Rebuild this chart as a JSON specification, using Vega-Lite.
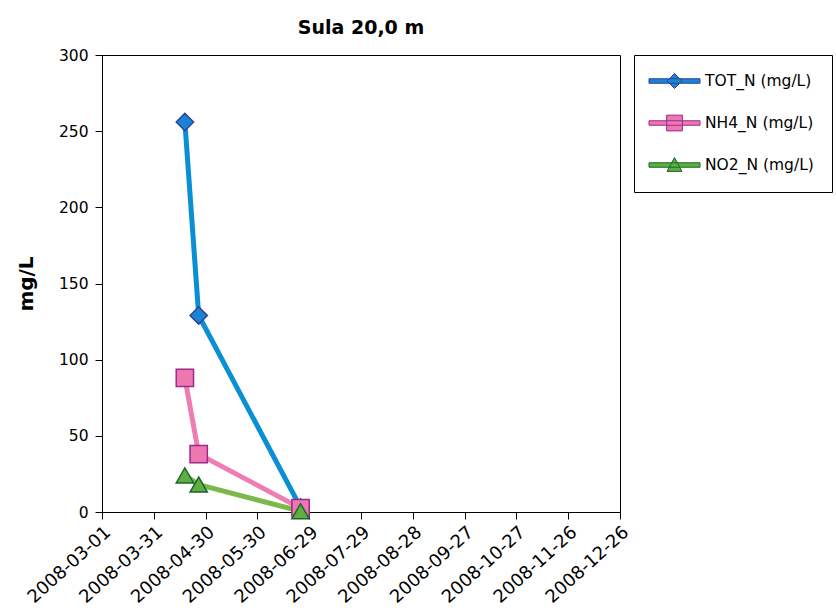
{
  "$schema": "https://vega.github.io/schema/vega-lite/v6.json",
  "width": 518,
  "height": 457,
  "autosize": {"type": "none"},
  "padding": {"left": 102, "top": 55, "right": 216, "bottom": 103},
  "background": "white",
  "config": {
    "font": "DejaVu Sans",
    "view": {"stroke": "black", "strokeWidth": 1},
    "axis": {"grid": false, "domainColor": "black", "tickColor": "black", "labelColor": "black", "titleColor": "black", "labelFont": "DejaVu Sans", "titleFont": "DejaVu Sans"}
  },
  "title": {
    "text": "Sula 20,0 m",
    "font": "DejaVu Sans",
    "fontSize": 19,
    "fontWeight": "bold",
    "color": "black",
    "anchor": "middle",
    "frame": "group",
    "baseline": "alphabetic",
    "offset": -5
  },
  "data": {
    "values": [
      {"date": "2008-04-18", "param": "TOT_N (mg/L)", "value": 256},
      {"date": "2008-04-26", "param": "TOT_N (mg/L)", "value": 129},
      {"date": "2008-06-24", "param": "TOT_N (mg/L)", "value": 3},
      {"date": "2008-04-18", "param": "NH4_N (mg/L)", "value": 88},
      {"date": "2008-04-26", "param": "NH4_N (mg/L)", "value": 38},
      {"date": "2008-06-24", "param": "NH4_N (mg/L)", "value": 2.5},
      {"date": "2008-04-18", "param": "NO2_N (mg/L)", "value": 24},
      {"date": "2008-04-26", "param": "NO2_N (mg/L)", "value": 18},
      {"date": "2008-06-24", "param": "NO2_N (mg/L)", "value": 0.5}
    ]
  },
  "encoding": {
    "x": {
      "field": "date",
      "type": "temporal",
      "scale": {
        "type": "utc",
        "domain": [{"year": 2008, "month": 3, "date": 1, "utc": true}, {"year": 2008, "month": 12, "date": 26, "utc": true}],
        "nice": false
      },
      "axis": {
        "title": null,
        "values": [
          {"year": 2008, "month": 3, "date": 1, "utc": true},
          {"year": 2008, "month": 3, "date": 31, "utc": true},
          {"year": 2008, "month": 4, "date": 30, "utc": true},
          {"year": 2008, "month": 5, "date": 30, "utc": true},
          {"year": 2008, "month": 6, "date": 29, "utc": true},
          {"year": 2008, "month": 7, "date": 29, "utc": true},
          {"year": 2008, "month": 8, "date": 28, "utc": true},
          {"year": 2008, "month": 9, "date": 27, "utc": true},
          {"year": 2008, "month": 10, "date": 27, "utc": true},
          {"year": 2008, "month": 11, "date": 26, "utc": true},
          {"year": 2008, "month": 12, "date": 26, "utc": true}
        ],
        "labelExpr": "utcFormat(datum.value, '%Y-%m-%d')",
        "labelAngle": -42,
        "labelFontSize": 18,
        "labelPadding": 4,
        "tickSize": 7,
        "labelOverlap": false,
        "labelBound": false,
        "labelFlush": false
      }
    },
    "y": {
      "field": "value",
      "type": "quantitative",
      "scale": {"domain": [0, 300], "nice": false},
      "axis": {
        "title": "mg/L",
        "titleFontSize": 20,
        "titleFontWeight": "bold",
        "titlePadding": 22,
        "values": [0, 50, 100, 150, 200, 250, 300],
        "labelFontSize": 15.5,
        "labelPadding": 7,
        "tickSize": 7
      }
    }
  },
  "layer": [
    {
      "mark": {"type": "line", "strokeWidth": 5, "strokeCap": "round", "strokeJoin": "round"},
      "encoding": {
        "color": {
          "field": "param",
          "type": "nominal",
          "sort": null,
          "scale": {"domain": ["TOT_N (mg/L)", "NH4_N (mg/L)", "NO2_N (mg/L)"], "range": ["#0a8fd4", "#ef7db4", "#7cb84a"]},
          "legend": null
        }
      }
    },
    {
      "mark": {"type": "point", "filled": true, "opacity": 1, "size": 300, "strokeWidth": 1.5},
      "encoding": {
        "shape": {
          "field": "param",
          "type": "nominal",
          "scale": {"domain": ["TOT_N (mg/L)", "NH4_N (mg/L)", "NO2_N (mg/L)"], "range": ["diamond", "square", "triangle-up"]},
          "legend": null
        },
        "fill": {
          "field": "param",
          "type": "nominal",
          "scale": {"domain": ["TOT_N (mg/L)", "NH4_N (mg/L)", "NO2_N (mg/L)"], "range": ["#1b82d8", "#ee77b0", "#5fae3f"]},
          "legend": null
        },
        "stroke": {
          "field": "param",
          "type": "nominal",
          "scale": {"domain": ["TOT_N (mg/L)", "NH4_N (mg/L)", "NO2_N (mg/L)"], "range": ["#2b4596", "#9a2a8c", "#17692f"]},
          "legend": null
        }
      }
    },
    {
      "mark": {"type": "point", "filled": true, "opacity": 0, "size": 225, "strokeWidth": 1},
      "encoding": {
        "shape": {
          "field": "param",
          "type": "nominal",
          "scale": {
            "domain": ["TOT_N (mg/L)", "NH4_N (mg/L)", "NO2_N (mg/L)"],
            "range": [
              "M-3.4,-0.3L3.4,-0.3L3.4,0.3L-3.4,0.3Z M-1,0L0,-1L1,0L0,1Z",
              "M-3.4,-0.3L3.4,-0.3L3.4,0.3L-3.4,0.3Z M-1.05,-1.05L1.05,-1.05L1.05,1.05L-1.05,1.05Z",
              "M-3.4,-0.3L3.4,-0.3L3.4,0.3L-3.4,0.3Z M0,-1L1,0.85L-1,0.85Z"
            ]
          },
          "legend": {
            "title": null,
            "orient": "none",
            "legendX": 532,
            "legendY": 0,
            "padding": 18,
            "strokeColor": "black",
            "fillColor": "white",
            "symbolSize": 225,
            "symbolOpacity": 1,
            "symbolStrokeWidth": 1,
            "symbolOffset": 14.5,
            "labelOffset": 22.5,
            "labelFont": "DejaVu Sans",
            "labelFontSize": 15.5,
            "labelColor": "black",
            "labelLimit": 300,
            "rowPadding": 22
          }
        },
        "fill": {
          "field": "param",
          "type": "nominal",
          "scale": {"domain": ["TOT_N (mg/L)", "NH4_N (mg/L)", "NO2_N (mg/L)"], "range": ["#1b82d8", "#ee77b0", "#5fae3f"]}
        },
        "stroke": {
          "field": "param",
          "type": "nominal",
          "scale": {"domain": ["TOT_N (mg/L)", "NH4_N (mg/L)", "NO2_N (mg/L)"], "range": ["#2b4596", "#9a2a8c", "#17692f"]}
        }
      }
    }
  ],
  "resolve": {"scale": {"shape": "independent", "fill": "independent", "stroke": "independent"}}
}
